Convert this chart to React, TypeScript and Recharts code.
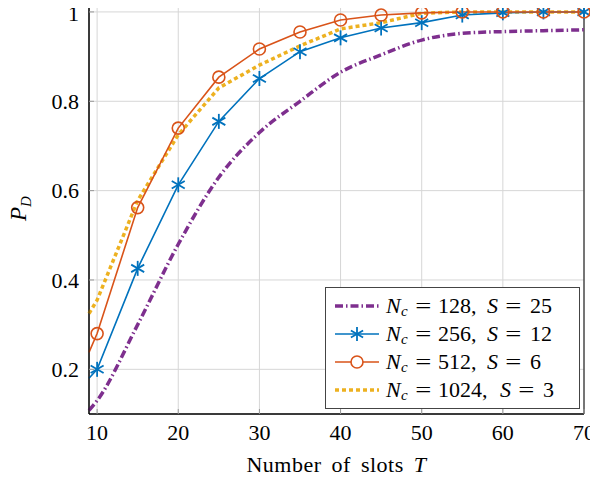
import {
  LineChart,
  Line,
  XAxis,
  YAxis,
  CartesianGrid,
  Legend,
  ReferenceArea,
  Label,
} from "recharts";

// Number of slots T (first entry = left edge of the plot, no marker there)
const slots = [9, 10, 15, 20, 25, 30, 35, 40, 45, 50, 55, 60, 65, 70];
const pd128 = [0.108, 0.13, 0.3, 0.48, 0.63, 0.73, 0.8, 0.865, 0.904, 0.937, 0.952, 0.956, 0.958, 0.96];
const pd256 = [0.18, 0.2, 0.426, 0.613, 0.755, 0.851, 0.911, 0.942, 0.964, 0.976, 0.993, 0.998, 1, 1];
const pd512 = [0.238, 0.28, 0.562, 0.74, 0.854, 0.917, 0.955, 0.982, 0.993, 0.998, 1, 1, 1, 1];
const pd1024 = [0.325, 0.355, 0.578, 0.725, 0.83, 0.881, 0.924, 0.962, 0.976, 0.997, 1, 1, 1, 1];

const xTicks = [10, 20, 30, 40, 50, 60, 70];
const yTicks = [0.2, 0.4, 0.6, 0.8, 1];

const FONT = '"Liberation Serif", "Times New Roman", serif';
const PURPLE = "#7E2F8E";
const BLUE = "#0072BD";
const ORANGE = "#D95319";
const YELLOW = "#EDB120";

const data = slots.map((T, i) => ({
  T,
  a: pd128[i],
  b: pd256[i],
  c: pd512[i],
  d: pd1024[i],
}));

const StarDot = (props: any) => {
  const { cx, cy, payload, index } = props;
  if (payload.T < 10) return <g key={`s${index}`} />;
  const r = 7.5;
  const dx = r * Math.cos(Math.PI / 6);
  const dy = r / 2;
  return (
    <g key={`s${index}`} stroke={BLUE} strokeWidth={1.8}>
      <line x1={cx} y1={cy - r} x2={cx} y2={cy + r} />
      <line x1={cx - dx} y1={cy - dy} x2={cx + dx} y2={cy + dy} />
      <line x1={cx - dx} y1={cy + dy} x2={cx + dx} y2={cy - dy} />
    </g>
  );
};

const CircleDot = (props: any) => {
  const { cx, cy, payload, index } = props;
  if (payload.T < 10) return <g key={`c${index}`} />;
  return <circle key={`c${index}`} cx={cx} cy={cy} r={6} fill="none" stroke={ORANGE} strokeWidth={1.6} />;
};

const series = [
  { n: "128", s: "25", sx: 101, color: PURPLE, dash: "8 3 1.5 3", width: 3.5, mark: "" },
  { n: "256", s: "12", sx: 101, color: BLUE, dash: "", width: 1.6, mark: "star" },
  { n: "512", s: "6", sx: 101, color: ORANGE, dash: "", width: 1.6, mark: "circle" },
  { n: "1024", s: "3", sx: 114, color: YELLOW, dash: "4 3", width: 3.5, mark: "" },
];

const LegendBox = () => (
  <div
    style={{
      position: "relative",
      width: 253,
      height: 120,
      border: "1px solid #444",
      background: "#fff",
      fontFamily: FONT,
      fontSize: 22,
      color: "#000",
      lineHeight: "28px",
    }}
  >
    {series.map((s, i) => (
      <div key={s.n} style={{ position: "absolute", left: 0, top: 4 + i * 28, height: 28, width: 253 }}>
        <svg width={44} height={20} style={{ position: "absolute", left: 9, top: 4 }}>
          <line
            x1={0}
            y1={10}
            x2={44}
            y2={10}
            stroke={s.color}
            strokeWidth={s.width}
            strokeDasharray={s.dash || undefined}
          />
          {s.mark === "star" && (
            <g stroke={BLUE} strokeWidth={1.8}>
              <line x1={22} y1={3} x2={22} y2={17} />
              <line x1={15.9} y1={6.5} x2={28.1} y2={13.5} />
              <line x1={15.9} y1={13.5} x2={28.1} y2={6.5} />
            </g>
          )}
          {s.mark === "circle" && <circle cx={22} cy={10} r={6} fill="#fff" stroke={ORANGE} strokeWidth={1.6} />}
        </svg>
        <div style={{ position: "absolute", left: 60, top: 0, whiteSpace: "pre" }}>
          <span style={{ position: "absolute", left: 0, fontStyle: "italic" }}>N</span>
          <span style={{ position: "absolute", left: 15, top: 5, fontStyle: "italic", fontSize: 15 }}>c</span>
          <span style={{ position: "absolute", left: 31, transform: "scaleX(1.3)" }}>=</span>
          <span style={{ position: "absolute", left: 52 }}>{s.n},</span>
          <span style={{ position: "absolute", left: s.sx, fontStyle: "italic" }}>S</span>
          <span style={{ position: "absolute", left: s.sx + 20, transform: "scaleX(1.3)" }}>=</span>
          <span style={{ position: "absolute", left: s.sx + 43 }}>{s.s}</span>
        </div>
      </div>
    ))}
  </div>
);

export default function App() {
  return (
    <div style={{ margin: -8, width: 598, height: 482, background: "#fff" }}>
      <LineChart
        width={598}
        height={482}
        data={data}
        margin={{ top: 3, right: 14, left: 0, bottom: 0 }}
        style={{ overflow: "visible" }}
      >
        <CartesianGrid stroke="#d6d6d6" strokeWidth={1} />
        <XAxis
          dataKey="T"
          type="number"
          domain={[9, 70]}
          ticks={xTicks}
          height={68}
          tickSize={-5}
          tickMargin={15}
          tickLine={{ stroke: "#999" }}
          axisLine={{ stroke: "#000" }}
          tick={{ fontSize: 22, fontFamily: FONT, fill: "#000" }}
        >
          <Label
            content={(p: any) => {
              const vb = p.viewBox;
              return (
                <text
                  x={vb.x + vb.width / 2}
                  y={472}
                  textAnchor="middle"
                  fontFamily={FONT}
                  fontSize={22}
                  letterSpacing={0.5}
                  wordSpacing={4}
                  fill="#000"
                >
                  Number of slots <tspan fontStyle="italic">T</tspan>
                </text>
              );
            }}
          />
        </XAxis>
        <YAxis
          type="number"
          domain={[0.1, 1.02]}
          ticks={yTicks}
          width={89}
          tickSize={-5}
          tickMargin={15}
          tickLine={{ stroke: "#999" }}
          axisLine={{ stroke: "#000" }}
          tickFormatter={(v: number) => (v === 1 ? "1" : v.toFixed(1))}
          tick={{ fontSize: 22, fontFamily: FONT, fill: "#000" }}
        >
          <Label
            content={(p: any) => {
              const vb = p.viewBox;
              const cy = vb.y + vb.height / 2;
              return (
                <text
                  x={26}
                  y={cy}
                  transform={`rotate(-90 26 ${cy})`}
                  textAnchor="middle"
                  fontFamily={FONT}
                  fontSize={23}
                  fill="#000"
                >
                  <tspan fontStyle="italic">P</tspan>
                  <tspan fontStyle="italic" fontSize={15} dy={5}>
                    D
                  </tspan>
                </text>
              );
            }}
          />
        </YAxis>
        <ReferenceArea x1={9} x2={70} y1={0.1} y2={1.02} fill="none" stroke="#000" strokeWidth={1} />
        <Line
          dataKey="a"
          stroke={PURPLE}
          strokeWidth={3.5}
          strokeDasharray="8 3 1.5 3"
          dot={false}
          type="monotone"
          isAnimationActive={false}
        />
        <Line dataKey="d" stroke={YELLOW} strokeWidth={3.5} strokeDasharray="4 3" dot={false} isAnimationActive={false} />
        <Line dataKey="b" stroke={BLUE} strokeWidth={1.6} dot={StarDot} isAnimationActive={false} />
        <Line dataKey="c" stroke={ORANGE} strokeWidth={1.6} dot={CircleDot} isAnimationActive={false} />
        <Legend
          layout="vertical"
          align="center"
          verticalAlign="middle"
          content={() => <LegendBox />}
          wrapperStyle={{ left: 325, top: 287, width: 255, height: 122 }}
        />
      </LineChart>
    </div>
  );
}
